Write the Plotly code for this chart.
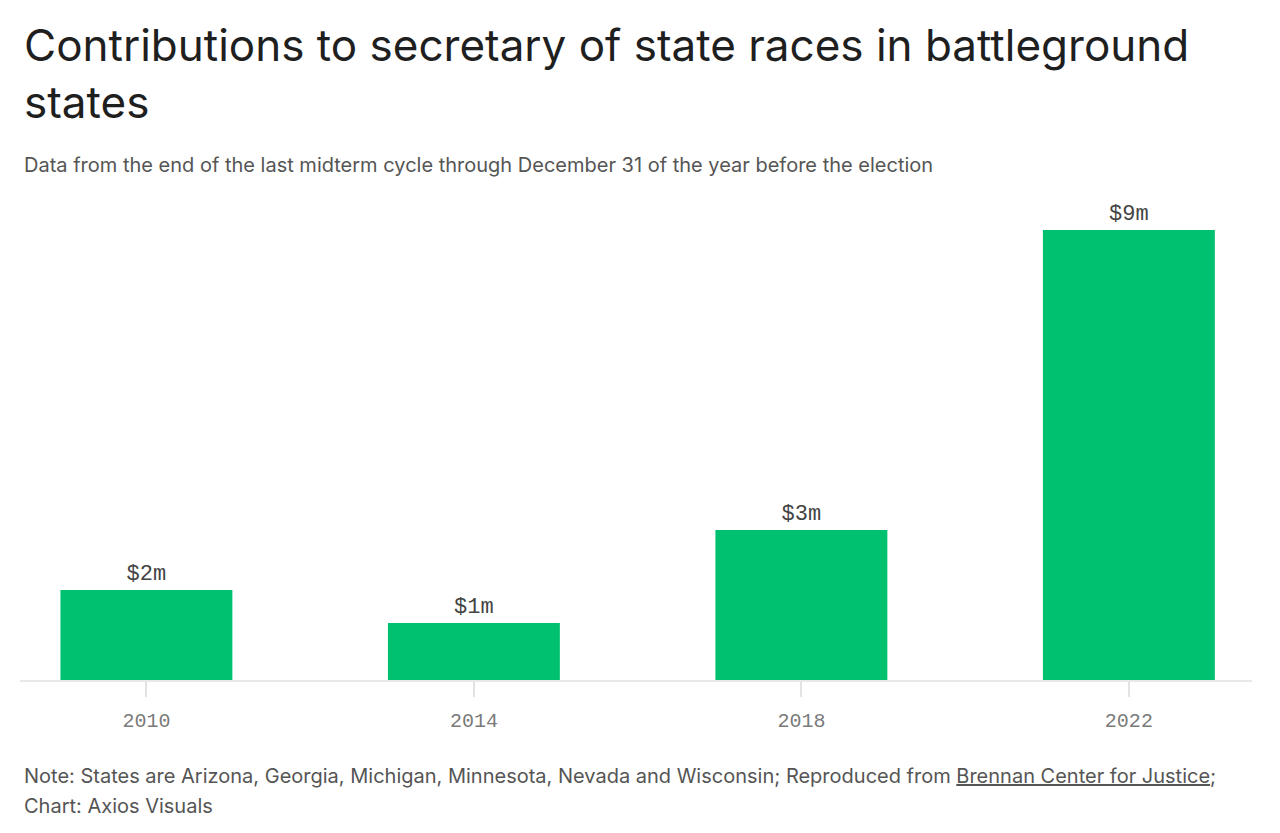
import plotly.graph_objects as go

years = ["2010", "2014", "2018", "2022"]
contrib_millions = [1.8, 1.14, 3.0, 9.0]
value_labels = ["$2m", "$1m", "$3m", "$9m"]

title_text = "Contributions to secretary of state races in battleground<br>states"
subtitle_text = "Data from the end of the last midterm cycle through December 31 of the year before the election"
note_line1 = ("Note: States are Arizona, Georgia, Michigan, Minnesota, Nevada and Wisconsin; "
              "Reproduced from <u>Brennan Center for Justice</u>;")
note_line2 = "Chart: Axios Visuals"

W, H = 1280, 833
OFF = 8  # page body offset
L, R, T, B = 12, 36, 192, 161
plot_h = H - T - B

def py(y):
    # convert page pixel y to paper coordinate
    return (H - B - (y - OFF)) / plot_h

fig = go.Figure()
fig.add_trace(go.Bar(
    x=list(range(len(years))),
    y=contrib_millions,
    width=0.525,
    marker=dict(color="#00c170", line=dict(width=0)),
    text=value_labels,
    textposition="outside",
    textfont=dict(family="Liberation Mono", size=22, color="#444444"),
    cliponaxis=False,
    hoverinfo="skip",
))

fig.update_layout(
    width=W, height=H,
    margin=dict(l=L, r=R, t=T, b=B),
    paper_bgcolor="white", plot_bgcolor="white",
    showlegend=False,
    xaxis=dict(
        range=[-0.386, 3.376],
        tickmode="array",
        tickvals=list(range(len(years))),
        ticktext=years,
        showgrid=False, zeroline=False,
        showline=True, linecolor="#e8e8e8", linewidth=1.5,
        ticks="outside", ticklen=15, tickcolor="#e2e2e2", tickwidth=1.5,
        ticklabelstandoff=6,
        tickfont=dict(family="Liberation Mono", size=20, color="#7a7a7a"),
        fixedrange=True,
    ),
    yaxis=dict(
        range=[0, plot_h / 50.0],
        visible=False, fixedrange=True,
    ),
    annotations=[
        dict(text=title_text, xref="paper", yref="paper", x=0, y=py(16),
             xanchor="left", yanchor="top", xshift=2, align="left", showarrow=False,
             font=dict(family="Inter", size=44, color="#1f1f1f")),
        dict(text=subtitle_text, xref="paper", yref="paper", x=0, y=py(151),
             xanchor="left", yanchor="top", xshift=2, align="left", showarrow=False,
             font=dict(family="Inter", size=20, color="#555555")),
        dict(text=note_line1, xref="paper", yref="paper", x=0, y=py(762),
             xanchor="left", yanchor="top", xshift=2, align="left", showarrow=False,
             font=dict(family="Inter", size=20, color="#555555")),
        dict(text=note_line2, xref="paper", yref="paper", x=0, y=py(792),
             xanchor="left", yanchor="top", xshift=2, align="left", showarrow=False,
             font=dict(family="Inter", size=20, color="#555555")),
    ],
)

fig.write_html("out.html")
